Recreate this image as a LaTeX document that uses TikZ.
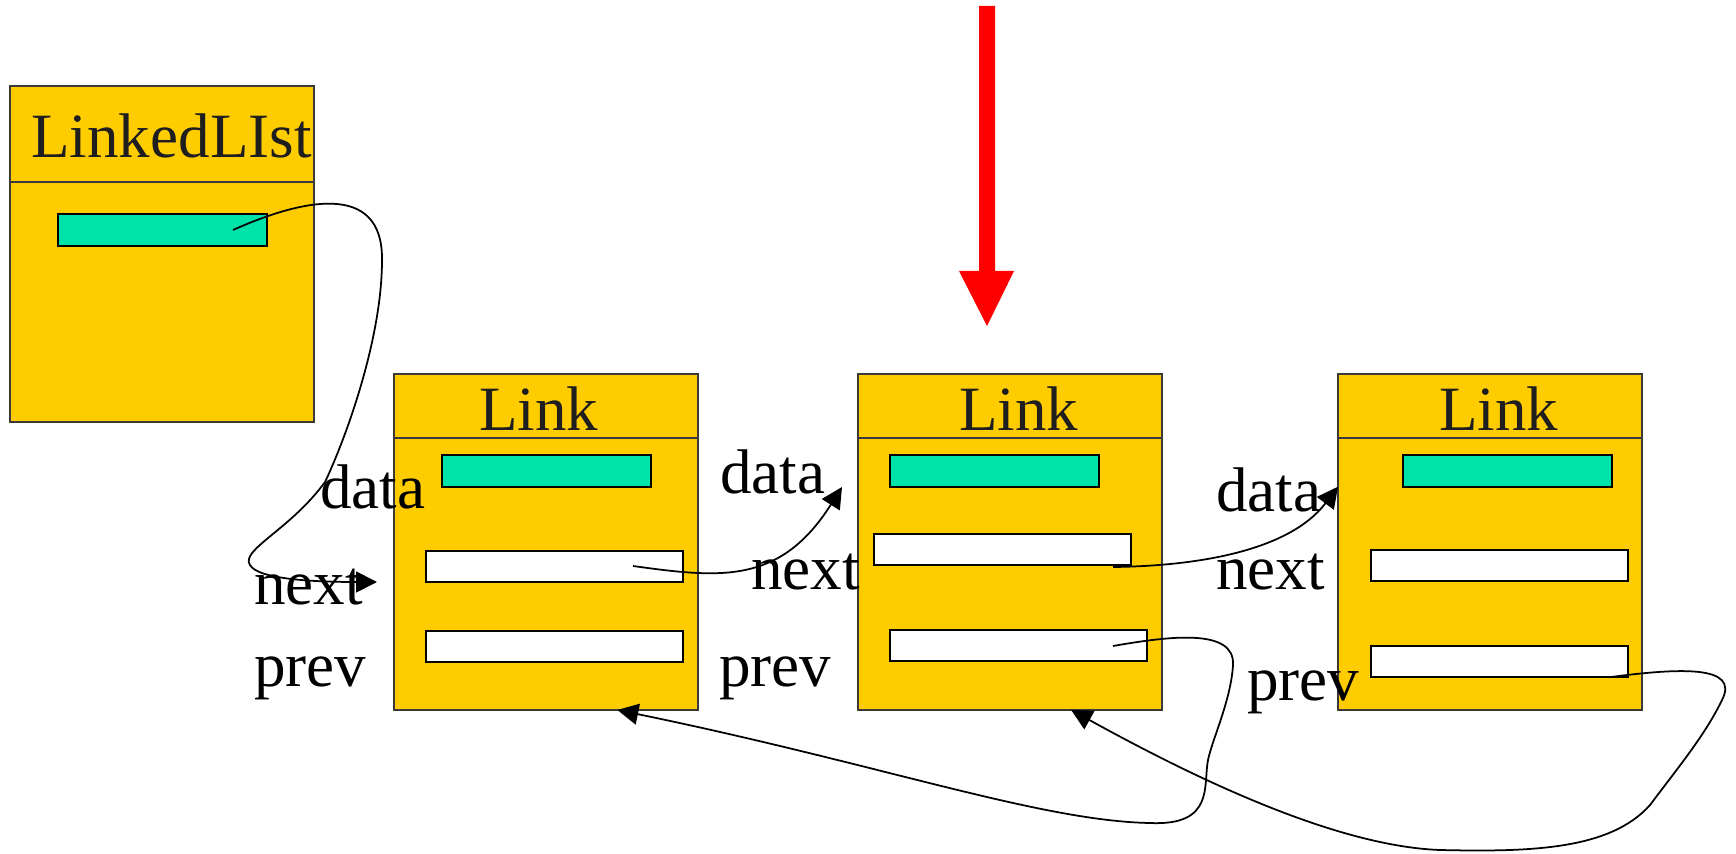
\documentclass[tikz,border=0pt]{standalone}
\usepackage{fontspec}
\setmainfont{Liberation Serif}
\usepackage{xcolor}
\definecolor{boxYellow}{HTML}{FFCC00}
\definecolor{dataGreen}{HTML}{00E3A8}
\definecolor{boxLine}{HTML}{3A3A3A}
\definecolor{titleGray}{HTML}{1E1E1E}
\usepackage{tikz}
\usetikzlibrary{arrows.meta}
\tikzset{
  objBox/.style={
    rectangle,
    draw=boxLine,
    fill=boxYellow,
    line width=1pt,
    minimum width=6.08cm,
    inner sep=0pt,
    outer sep=0pt,
    anchor=north west
 },
  dataField/.style={
    rectangle,
    draw=black,
    fill=dataGreen,
    line width=1pt,
    minimum width=4.18cm,
    minimum height=0.64cm,
    inner sep=0pt,
    outer sep=0pt,
    anchor=north west
 },
  ptrField/.style={
    rectangle,
    draw=black,
    fill=white,
    line width=1pt,
    minimum width=5.14cm,
    minimum height=0.62cm,
    inner sep=0pt,
    outer sep=0pt,
    anchor=north west
 },
  titleText/.style={
    font=\fontsize{35.9}{40}\selectfont,
    text=titleGray,
    inner sep=0pt,
    anchor=base west
 },
  fieldText/.style={
    font=\fontsize{35.9}{40}\selectfont,
    text=black,
    inner sep=0pt,
    anchor=base west
 },
  ptrArrow/.style={
    -{Triangle[length=0.42cm,width=0.42cm]},
    line width=1pt,
    color=black
 }
}

\begin{document}
\begin{tikzpicture}[x=0.02cm, y=-0.02cm]
\useasboundingbox (0,0) rectangle (1736,854);

% the list object
\node[objBox, minimum height=6.72cm] (list) at (10,86) {};
\node[objBox, minimum height=1.92cm] (listHead) at (list.north west) {};
\node[titleText] (listName) at (31,158) {LinkedLIst};
\node[dataField] (first) at (58,214) {};

% first link
\node[objBox, minimum height=6.72cm] (link1) at (394,374) {};
\node[objBox, minimum height=1.28cm] (head1) at (link1.north west) {};
\node[titleText] (name1) at (479,430) {Link};
\node[dataField] (data1) at (442,455) {};
\node[ptrField] (next1) at (426,551) {};
\node[ptrField] (prev1) at (426,631) {};

% second link
\node[objBox, minimum height=6.72cm] (link2) at (858,374) {};
\node[objBox, minimum height=1.28cm] (head2) at (link2.north west) {};
\node[titleText] (name2) at (959,430) {Link};
\node[dataField] (data2) at (890,455) {};
\node[ptrField] (next2) at (874,534) {};
\node[ptrField] (prev2) at (890,630) {};

% third link
\node[objBox, minimum height=6.72cm] (link3) at (1338,374) {};
\node[objBox, minimum height=1.28cm] (head3) at (link3.north west) {};
\node[titleText] (name3) at (1439,430) {Link};
\node[dataField] (data3) at (1403,455) {};
\node[ptrField] (next3) at (1371,550) {};
\node[ptrField] (prev3) at (1371,646) {};

% field names
\node[fieldText] (d1) at (320,508) {data};
\node[fieldText] (n1) at (254,604) {next};
\node[fieldText] (p1) at (254,686) {prev};
\node[fieldText] (d2) at (720,493) {data};
\node[fieldText] (n2) at (751,589) {next};
\node[fieldText] (p2) at (719,686) {prev};
\node[fieldText] (d3) at (1216,511) {data};
\node[fieldText] (n3) at (1216,589) {next};
\node[fieldText] (p3) at (1247,700) {prev};

% where the pointers start
\coordinate (firstOut) at (233,230);
\coordinate (next1Out) at (633,566);
\coordinate (next2Out) at (1113,567);
\coordinate (prev2Out) at (1113,646);
\coordinate (prev3Out) at (1611,677);
\coordinate (firstIn) at (377,582);
\coordinate (next1In) at (842,487);

% next pointers
\draw[ptrArrow] (firstOut) .. controls (300,200) and (383,180) .. (382,260)
  .. controls (382,340) and (345,440) .. (325,482)
  .. controls (290,530) and (240,550) .. (250,565)
  .. controls (258,580) and (320,582) .. (firstIn);
\draw[ptrArrow] (next1Out) .. controls (720,578) and (780,585) .. (next1In);
\draw[ptrArrow] (next2Out) .. controls (1200,566) and (1290,550) .. (link3.160);

% prev pointers
\draw[ptrArrow] (prev2Out) .. controls (1170,636) and (1235,628) .. (1233,665)
  .. controls (1231,700) and (1212,740) .. (1208,760)
  .. controls (1203,785) and (1215,826) .. (1150,823)
  .. controls (1040,821) and (880,764) .. (link1.-67);
\draw[ptrArrow] (prev3Out) .. controls (1680,668) and (1740,665) .. (1722,700)
  .. controls (1705,735) and (1680,765) .. (1650,805)
  .. controls (1610,850) and (1530,852) .. (1440,850)
  .. controls (1330,846) and (1180,770) .. (link2.-70);

% red marker
\fill[red] (979,6) -- (995,6) -- (995,271) -- (1014,271) -- (987,326)
  -- (959,271) -- (979,271) -- cycle;

\end{tikzpicture}
\end{document}
